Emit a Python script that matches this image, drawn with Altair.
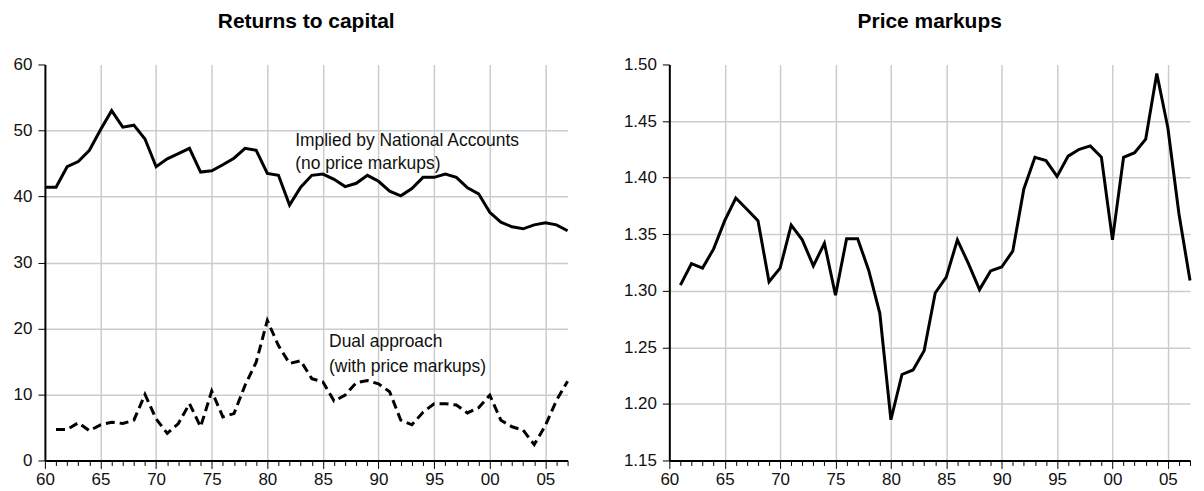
import altair as alt
import pandas as pd

FONT = "Liberation Sans"

# ---------------- data ----------------
years_national = list(range(1960, 2008))
national_accounts = [41.4, 41.4, 44.5, 45.3, 47.0, 50.1, 53.0, 50.5, 50.8, 48.7,
                     44.5, 45.7, 46.5, 47.3, 43.7, 43.9, 44.8, 45.8, 47.3, 47.0,
                     43.5, 43.2, 38.7, 41.4, 43.2, 43.4, 42.6, 41.5, 42.0, 43.2,
                     42.3, 40.8, 40.1, 41.2, 42.9, 42.9, 43.4, 42.9, 41.3, 40.4,
                     37.6, 36.1, 35.4, 35.1, 35.7, 36.0, 35.7, 34.8]

years_dual = list(range(1961, 2008))
dual_approach = [4.7, 4.7, 5.7, 4.5, 5.4, 5.8, 5.6, 6.1, 10.0,
                 6.3, 4.1, 5.6, 8.6, 5.1, 10.5, 6.6, 7.1, 11.4, 14.9,
                 21.2, 17.4, 14.7, 15.1, 12.4, 11.9, 9.0, 9.9, 11.8, 12.1,
                 11.6, 10.4, 6.1, 5.4, 7.3, 8.6, 8.6, 8.4, 7.2, 8.0,
                 9.9, 6.1, 5.1, 4.6, 2.4, 5.3, 9.1, 12.0]

years_markup = list(range(1961, 2008))
price_markups = [1.305, 1.324, 1.320, 1.337, 1.362, 1.382, 1.372, 1.362, 1.308,
                 1.320, 1.358, 1.345, 1.322, 1.342, 1.296, 1.346, 1.346, 1.318, 1.280,
                 1.186, 1.226, 1.230, 1.247, 1.298, 1.312, 1.345, 1.324, 1.301, 1.3175,
                 1.321, 1.335, 1.390, 1.418, 1.415, 1.401, 1.419, 1.425, 1.428, 1.418,
                 1.345, 1.418, 1.422, 1.434, 1.492, 1.444, 1.368, 1.309]

year_ticks = list(range(1960, 2008))
left_y_ticks = [0, 10, 20, 30, 40, 50, 60]
right_y_ticks = [1.15, 1.20, 1.25, 1.30, 1.35, 1.40, 1.45, 1.50]

ann_text = ["Implied by National Accounts", "(no price markups)",
            "Dual approach", "(with price markups)"]
ann_year = [1982.5, 1982.5, 1985.55, 1985.55]
ann_value = [47.6, 44.1, 17.2, 13.4]

# ---------------- tables ----------------
df_nat = pd.DataFrame({"year": years_national, "value": national_accounts})
df_dual = pd.DataFrame({"year": years_dual, "value": dual_approach})
df_mk = pd.DataFrame({"year": years_markup, "value": price_markups})
df_ann = pd.DataFrame({"year": ann_year, "value": ann_value, "text": ann_text})

H = 397
W_LEFT, W_RIGHT = 524, 522

def x_axis():
    return alt.Axis(
        values=year_ticks,
        labelExpr="datum.value % 5 == 0 ? substring(toString(datum.value), 2) : ''",
        labelOverlap=False, labelFlush=False,
        labelFont=FONT, labelFontSize=17, labelColor="#111",
        labelPadding=3,
        tickSize={"condition": {"test": "datum.value % 5 == 0", "value": 8}, "value": 5},
        tickColor="#000", tickWidth=1,
        domainColor="#000", domainWidth=2,
        grid=True, gridColor="#cccccc", gridWidth=1.5,
        gridOpacity={"condition": {"test": "datum.value % 5 == 0 && datum.value > 1960", "value": 1}, "value": 0},
        title=None,
    )

def y_axis(values, fmt, top, extent):
    return alt.Axis(
        values=values, format=fmt,
        labelFont=FONT, labelFontSize=17, labelColor="#111",
        labelPadding=6, tickSize=7, tickColor="#000", tickWidth=1,
        domainColor="#000", domainWidth=2,
        grid=True, gridColor="#cccccc", gridWidth=1.5,
        gridOpacity={"condition": {"test": f"datum.value < {top}", "value": 1}, "value": 0},
        minExtent=extent, maxExtent=extent,
        title=None,
    )

x_left = alt.X("year:Q", scale=alt.Scale(domain=[1960, 2007], nice=False, zero=False), axis=x_axis())
y_left = alt.Y("value:Q", scale=alt.Scale(domain=[0, 60], nice=False), axis=y_axis(left_y_ticks, "d", 59.9, 32))

nat_line = alt.Chart(df_nat).mark_line(color="#000", strokeWidth=3)
dual_line = alt.Chart(df_dual).mark_line(color="#000", strokeWidth=3, strokeDash=[9, 5])
ann = alt.Chart(df_ann).mark_text(align="left", baseline="alphabetic", font=FONT, fontSize=17.5, color="#111").encode(
    text="text:N")

left = alt.layer(nat_line, dual_line, ann).encode(x=x_left, y=y_left).properties(
    width=W_LEFT, height=H,
    title=alt.TitleParams("Returns to capital", font=FONT, fontSize=21, fontWeight="bold",
                          color="#000", anchor="middle", offset=24),
)

x_right = alt.X("year:Q", scale=alt.Scale(domain=[1960, 2007], nice=False, zero=False), axis=x_axis())
y_right = alt.Y("value:Q", scale=alt.Scale(domain=[1.15, 1.50], nice=False, zero=False),
                axis=y_axis(right_y_ticks, ".2f", 1.499, 46))

right = alt.Chart(df_mk).mark_line(color="#000", strokeWidth=3).encode(x=x_right, y=y_right).properties(
    width=W_RIGHT, height=H,
    title=alt.TitleParams("Price markups", font=FONT, fontSize=21, fontWeight="bold",
                          color="#000", anchor="middle", offset=24),
)

chart = alt.hconcat(left, right, spacing=49).properties(
    padding={"left": 5, "top": 2, "right": 0, "bottom": 0},
    background="white",
).configure_view(stroke=None)

chart.save("out.html", embed_options={"renderer": "svg", "actions": False})
